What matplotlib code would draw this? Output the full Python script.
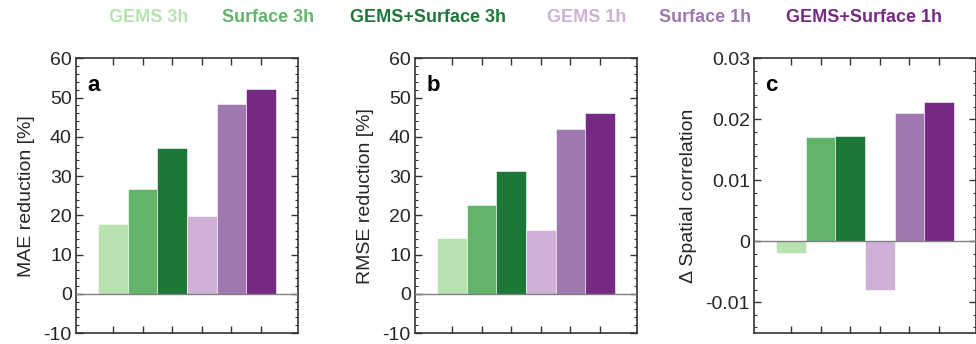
import matplotlib
matplotlib.use("Agg")
import matplotlib.pyplot as plt
from matplotlib.ticker import MultipleLocator, FixedLocator

plt.rcParams['font.family'] = ['Liberation Sans', 'DejaVu Sans']
plt.rcParams['axes.unicode_minus'] = False

labels = ["GEMS 3h", "Surface 3h", "GEMS+Surface 3h", "GEMS 1h", "Surface 1h", "GEMS+Surface 1h"]
colors = ["#b8e3b0", "#63b46b", "#1d7837", "#cfb0d7", "#9e78ae", "#762a83"]
positions = [1, 2, 3, 4, 5, 6]

mae_reduction = [17.7, 26.7, 37.1, 19.7, 48.4, 52.3]
rmse_reduction = [14.2, 22.7, 31.3, 16.3, 41.9, 46.0]
delta_spatial_corr = [-0.0019, 0.0171, 0.0172, -0.0079, 0.0211, 0.0229]

panels = [
    ("a", mae_reduction, "MAE reduction [%]", (-10, 60), 2, [-10, 0, 10, 20, 30, 40, 50, 60], None),
    ("b", rmse_reduction, "RMSE reduction [%]", (-10, 60), 2, [-10, 0, 10, 20, 30, 40, 50, 60], None),
    ("c", delta_spatial_corr, "\u0394 Spatial correlation", (-0.015, 0.03), 0.002,
     [-0.01, 0, 0.01, 0.02, 0.03], ["-0.01", "0", "0.01", "0.02", "0.03"]),
]

fig = plt.figure(figsize=(9.76, 3.44), dpi=100)
lefts = [76 / 976, 415 / 976, 754 / 976]
w = 222 / 976
bottom = 1 - 333 / 344
h = (333 - 58.3) / 344

tick_color = "#262626"
for (tag, vals, ylabel, ylim, minor, yt, ytl), left in zip(panels, lefts):
    ax = fig.add_axes([left, bottom, w, h])
    ax.bar(positions, vals, width=1.0, color=colors, edgecolor="white", linewidth=0.4, zorder=2)
    ax.axhline(0, color="#808080", lw=1.0, zorder=3)
    ax.set_xlim(-0.25, 7.25)
    ax.set_ylim(*ylim)
    ax.xaxis.set_major_locator(FixedLocator(positions))
    ax.set_xticklabels([])
    ax.set_yticks(yt)
    if ytl is not None:
        ax.set_yticklabels(ytl)
    ax.yaxis.set_minor_locator(MultipleLocator(minor))
    ax.tick_params(axis="both", which="major", direction="in", top=True, right=True,
                   length=5, width=1.0, color="#333333", labelsize=14, labelcolor=tick_color, pad=3)
    ax.tick_params(axis="y", which="minor", direction="in", left=True, right=True,
                   length=2.5, width=0.8, color="#333333")
    for s in ax.spines.values():
        s.set_linewidth(1.2)
        s.set_color("#333333")
    ax.set_ylabel(ylabel, fontsize=14, color=tick_color, labelpad=6)
    ax.text(0.05, 0.94, tag, transform=ax.transAxes, fontsize=16, fontweight="bold",
            va="top", ha="left", color="black")

legend_x = [109, 222, 350, 547, 659, 786]
for lab, col, x in zip(labels, colors, legend_x):
    fig.text(x / 976, 1 - 17 / 344, lab, color=col, fontsize=13, fontweight="bold",
             ha="left", va="center")

fig.savefig("out.png", dpi=100)
